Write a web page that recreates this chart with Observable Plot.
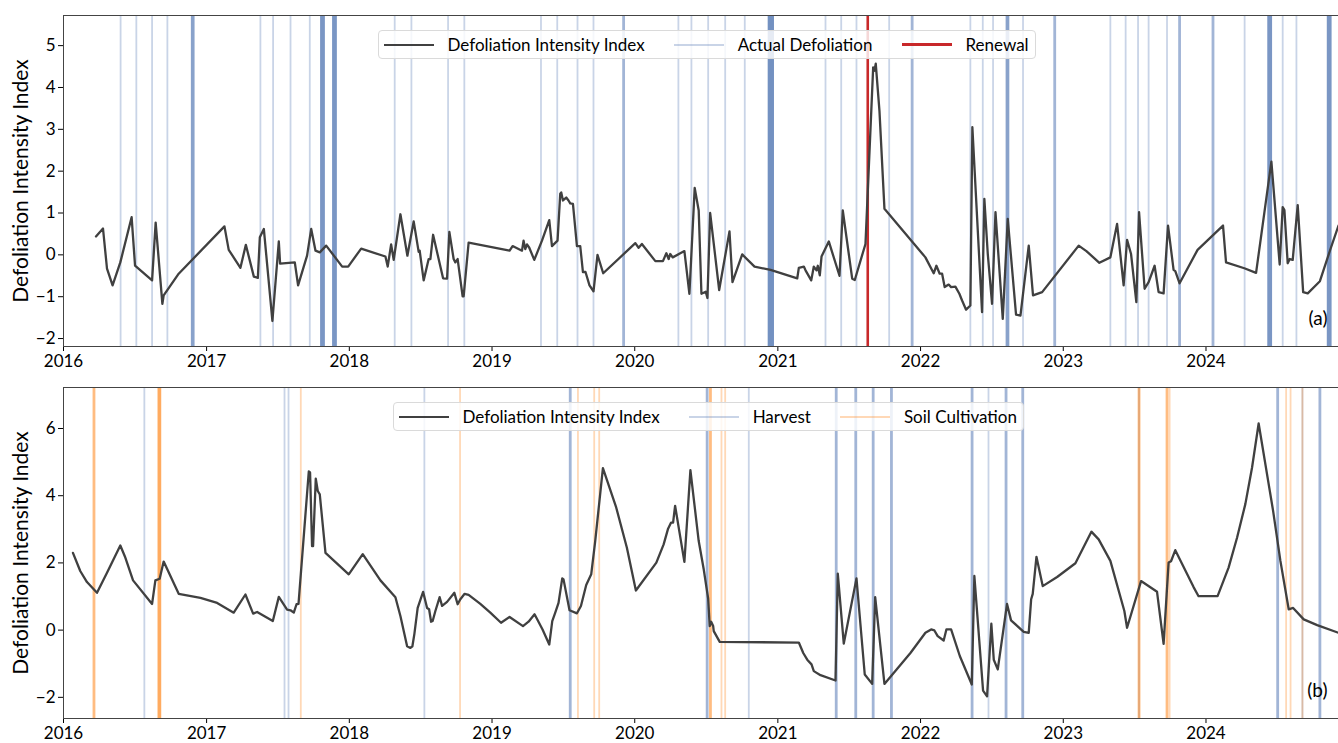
<!DOCTYPE html>
<html><head><meta charset="utf-8">
<script src="https://cdn.jsdelivr.net/npm/d3@7"></script>
<script src="https://cdn.jsdelivr.net/npm/@observablehq/plot@0.6"></script>
<style>
body{margin:0;background:#fff;font-family:Lato,sans-serif;}
#wrap{position:relative;width:1338px;height:743px;overflow:hidden;background:#fff}
.panel{position:relative;width:1338px}
.panel svg{display:block}
.legend{position:absolute;display:flex;align-items:center;background:rgba(255,255,255,0.82);border:1px solid #dadada;border-radius:4px;box-sizing:border-box;height:29px;padding:0 6px 0 5px;font-size:17px;color:#000;white-space:nowrap}
.item{display:flex;align-items:center;margin-right:29.5px}
.item:last-child{margin-right:0}
.sw{width:50px;height:0;margin-right:13.5px}
</style>
</head><body><div id="wrap"></div><script>
// ---------- data (decimal years) ----------
const xDomainYears = [2016.0, 2024.926];
const tickYears = [2016, 2017, 2018, 2019, 2020, 2021, 2022, 2023, 2024];
const topYTicks = [-2, -1, 0, 1, 2, 3, 4, 5];
const bottomYTicks = [-2, 0, 2, 4, 6];
const topYDomain = [-2.19, 5.72];
const bottomYDomain = [-2.63, 7.22];

const topYears = [2016.227,2016.276,2016.304,2016.343,2016.397,2016.476,2016.500,2016.619,2016.644,2016.691,2016.700,2016.805,
2017.125,2017.155,2017.237,2017.275,2017.331,2017.359,2017.373,2017.401,2017.461,2017.506,2017.515,2017.618,2017.641,2017.704,2017.733,2017.763,2017.793,2017.838,2017.950,2017.992,
2018.083,2018.253,2018.269,2018.293,2018.311,2018.358,2018.407,2018.451,2018.486,2018.493,2018.521,2018.556,2018.568,2018.587,2018.657,2018.685,2018.701,2018.731,2018.743,2018.759,2018.794,2018.801,2018.836,
2019.123,2019.144,2019.210,2019.221,2019.233,2019.245,2019.261,2019.296,2019.350,2019.401,2019.420,2019.459,2019.478,2019.485,2019.497,2019.520,2019.536,2019.548,2019.567,2019.595,2019.618,2019.637,2019.655,2019.683,2019.711,2019.739,2019.779,
2020.004,2020.027,2020.050,2020.144,2020.197,2020.221,2020.237,2020.248,2020.265,2020.347,2020.382,2020.419,2020.447,2020.466,2020.496,2020.508,2020.527,2020.590,2020.662,2020.683,2020.751,2020.837,2020.949,
2021.136,2021.147,2021.182,2021.194,2021.234,2021.252,2021.271,2021.280,2021.294,2021.306,2021.357,2021.432,2021.455,2021.521,2021.539,2021.614,2021.668,2021.677,2021.686,2021.712,2021.747,
2022.034,2022.092,2022.111,2022.134,2022.151,2022.169,2022.197,2022.214,2022.244,2022.272,2022.291,2022.319,2022.349,2022.363,2022.431,2022.447,2022.471,2022.501,2022.525,2022.576,2022.611,2022.669,2022.700,2022.758,2022.788,2022.852,
2023.108,2023.162,2023.253,2023.330,2023.377,2023.423,2023.447,2023.475,2023.512,2023.531,2023.570,2023.598,2023.640,2023.668,2023.703,2023.734,2023.773,2023.785,2023.815,2023.941,
2024.119,2024.140,2024.268,2024.350,2024.457,2024.515,2024.536,2024.548,2024.571,2024.585,2024.606,2024.641,2024.679,2024.711,2024.796,2024.870,2024.926];
const topValues = [0.44,0.63,-0.33,-0.73,-0.18,0.90,-0.26,-0.61,0.77,-1.17,-0.97,-0.45,
0.68,0.12,-0.31,0.24,-0.52,-0.55,0.42,0.62,-1.58,0.32,-0.21,-0.18,-0.73,-0.02,0.62,0.10,0.06,0.22,-0.28,-0.28,
0.15,-0.04,-0.28,0.25,-0.12,0.97,-0.02,0.80,0.07,0.10,-0.61,-0.10,-0.10,0.48,-0.56,-0.57,0.55,-0.10,-0.18,-0.10,-0.99,-0.99,0.29,
0.10,0.21,0.10,0.34,0.14,0.25,0.17,-0.12,0.34,0.83,0.21,0.34,1.46,1.49,1.30,1.37,1.30,1.23,1.22,0.21,0.21,-0.41,-0.41,-0.73,-0.87,0.00,-0.44,
0.28,0.17,0.26,-0.15,-0.15,0.04,-0.10,0.02,-0.06,0.09,-0.93,1.60,1.06,-0.93,-0.88,-1.03,1.00,-0.84,0.56,-0.65,0.01,-0.28,-0.36,
-0.56,-0.31,-0.28,-0.37,-0.61,-0.28,-0.37,-0.26,-0.49,-0.04,0.32,-0.50,1.06,-0.57,-0.60,0.26,4.48,4.40,4.57,3.44,1.10,
-0.06,-0.44,-0.26,-0.45,-0.45,-0.77,-0.71,-0.77,-0.76,-0.93,-1.09,-1.31,-1.21,3.05,-1.37,1.34,0.02,-1.17,1.02,-1.53,0.86,-1.43,-1.45,0.22,-0.97,-0.89,
0.22,0.09,-0.19,-0.06,0.74,-0.73,0.36,0.02,-1.13,1.02,-0.81,-0.65,-0.26,-0.89,-0.92,0.70,-0.36,-0.39,-0.68,0.12,
0.70,-0.18,-0.32,-0.43,2.23,-0.23,1.14,1.07,-0.20,-0.10,-0.12,1.19,-0.89,-0.92,-0.63,0.14,0.70];

const bottomYears = [2016.066,2016.117,2016.164,2016.234,2016.304,2016.397,2016.432,2016.486,2016.619,2016.642,2016.672,2016.700,2016.805,2016.957,
2017.074,2017.190,2017.272,2017.326,2017.354,2017.464,2017.506,2017.564,2017.588,2017.611,2017.630,2017.644,2017.716,2017.725,2017.739,2017.746,2017.765,2017.779,2017.793,2017.833,2017.996,
2018.094,2018.218,2018.323,2018.358,2018.405,2018.428,2018.442,2018.456,2018.479,2018.517,2018.545,2018.559,2018.573,2018.584,2018.603,2018.633,2018.650,2018.685,2018.736,2018.759,2018.778,2018.808,2018.836,2018.918,2018.988,
2019.063,2019.123,2019.217,2019.256,2019.298,2019.354,2019.401,2019.422,2019.443,2019.466,2019.492,2019.501,2019.543,2019.595,2019.623,2019.660,2019.695,2019.723,2019.777,2019.870,2019.945,
2020.008,2020.151,2020.202,2020.233,2020.254,2020.268,2020.282,2020.347,2020.389,2020.447,2020.482,2020.513,2020.524,2020.534,2020.548,2020.552,2020.594,
2021.147,2021.178,2021.206,2021.236,2021.252,2021.299,2021.404,2021.420,2021.462,2021.551,2021.609,2021.661,2021.682,2021.747,2021.929,
2022.034,2022.074,2022.097,2022.120,2022.162,2022.181,2022.214,2022.275,2022.359,2022.377,2022.438,2022.466,2022.496,2022.513,2022.541,2022.606,2022.634,2022.723,2022.758,2022.775,2022.786,2022.812,2022.856,2022.957,
2023.085,2023.197,2023.248,2023.330,2023.428,2023.447,2023.545,2023.657,2023.703,2023.738,2023.755,2023.785,2023.913,2023.948,
2024.081,2024.158,2024.217,2024.275,2024.322,2024.368,2024.469,2024.520,2024.578,2024.609,2024.683,2024.777,2024.926];
const bottomValues = [2.30,1.76,1.43,1.11,1.71,2.52,2.16,1.48,0.78,1.48,1.53,2.04,1.08,0.96,
0.81,0.52,1.06,0.49,0.54,0.27,0.99,0.61,0.59,0.52,0.77,0.78,4.72,4.69,2.50,2.50,4.51,4.14,4.04,2.30,1.66,
2.26,1.48,0.98,0.42,-0.48,-0.53,-0.48,-0.11,0.66,1.14,0.66,0.62,0.25,0.27,0.57,0.98,0.72,0.84,1.11,0.77,0.92,1.08,1.05,0.78,0.52,
0.22,0.39,0.12,0.25,0.47,0.02,-0.43,0.27,0.52,0.81,1.54,1.51,0.59,0.50,0.72,1.34,1.66,2.65,4.82,3.65,2.45,
1.18,2.01,2.55,3.02,3.20,3.20,3.70,2.03,4.76,2.65,1.81,0.94,0.12,0.25,0.12,-0.03,-0.35,
-0.37,-0.68,-0.88,-1.02,-1.22,-1.34,-1.50,1.68,-0.40,1.54,-1.32,-1.60,0.98,-1.60,-0.68,
-0.08,0.02,-0.01,-0.18,-0.31,0.02,0.02,-0.77,-1.62,1.61,-1.80,-1.97,0.19,-0.88,-1.17,0.78,0.29,-0.05,-0.08,0.92,1.08,2.18,1.31,1.58,
1.99,2.93,2.70,2.06,0.57,0.07,1.46,1.14,-0.41,2.01,2.05,2.38,1.28,1.01,
1.01,1.86,2.75,3.75,4.84,6.15,3.55,2.06,0.62,0.66,0.32,0.15,-0.08];

// Event dates (decimal years) and number of overlapping events at each
const defolYears = [2016.399,2016.509,2016.619,2016.726,2016.903,2017.377,2017.466,2017.588,2017.723,2017.812,2017.896,
2018.318,2018.435,2018.692,2018.806,2019.343,2019.457,2019.599,2019.711,2019.922,
2020.305,2020.396,2020.513,2020.632,2020.769,2020.951,2021.334,2021.444,2021.551,2021.780,2021.941,
2022.349,2022.436,2022.508,2022.609,2022.718,2022.940,2023.330,2023.437,2023.524,2023.598,2023.727,2023.815,
2024.049,2024.270,2024.445,2024.536,2024.632,2024.861];
const defolCounts = [1,1,1,1,3,1,1,1,1,4,4,
1,1,1,1,1,1,1,1,2,
1,1,1,1,1,5,1,1,1,1,2,
1,1,1,3,1,2,1,1,1,1,1,2,
2,1,4,1,1,4];
const renewalYears = [2021.630];

const harvestYears = [2016.565,2017.546,2017.574,2018.526,2019.548,2020.506,2020.797,2021.409,2021.546,2021.668,2021.796,
2022.361,2022.476,2022.599,2022.716,2023.531,2024.501,2024.674,2024.796];
const harvestCounts = [1,1,1,1,2,2,1,2,2,2,2,2,1,2,2,1,2,1,2];
const soilYears = [2016.213,2016.670,2017.660,2018.776,2019.602,2019.716,2019.751,2020.529,2020.606,2020.632,
2023.531,2023.727,2023.745,2024.560,2024.591,2024.674];
const soilCounts = [2,3,1,1,1,1,1,2,1,1,2,2,1,1,1,1];

const topLegendLabels = ["Defoliation Intensity Index", "Actual Defoliation", "Renewal"];
const bottomLegendLabels = ["Defoliation Intensity Index", "Harvest", "Soil Cultivation"];
const yLabel = "Defoliation Intensity Index";
const panelTags = ["(a)", "(b)"];

// ---------- helpers ----------
const toDate = yd => { const y = Math.floor(yd); const a = Date.UTC(y,0,1), b = Date.UTC(y+1,0,1); return new Date(a + (yd - y) * (b - a)); };
const series = (ys, vs) => ys.map((y, i) => ({date: toDate(y), v: vs[i]}));
const events = (ys, cs) => ys.map((y, i) => ({date: toDate(y), n: cs ? cs[i] : 1}));
const W = n => [0, 1.8, 2.8, 3.7, 4.8, 6.3][n];
const O = n => [0, 0.3, 0.52, 0.66, 0.74, 0.78][n];

const LINE = "#404040", BLUE = "#4c72b0", ORANGE = "#ff7f0e", RED = "#c8282a", SPINE = "#444";
const xDomain = xDomainYears.map(toDate);
const xTicks = tickYears.map(y => toDate(y));

function panel(cfg) {
  const svg = Plot.plot({
    width: 1338, height: cfg.height,
    marginLeft: 63, marginRight: 0, marginTop: 15, marginBottom: cfg.marginBottom,
    style: {fontFamily: "Lato, sans-serif", fontSize: "17px", color: "#000", background: "transparent", overflow: "visible"},
    x: {type: "utc", domain: xDomain, ticks: xTicks, tickFormat: d3.utcFormat("%Y"), tickSize: 5, tickPadding: 3, label: null},
    y: {domain: cfg.yDomain, ticks: cfg.yTicks, tickSize: 5, tickPadding: 3, label: yLabel, labelAnchor: "center", labelArrow: "none", labelOffset: 50},
    marks: [
      ...cfg.ruleMarks,
      Plot.line(cfg.data, {x: "date", y: "v", stroke: LINE, strokeWidth: 2.3, curve: cfg.curve, clip: true}),
      Plot.ruleY([cfg.yDomain[0], cfg.yDomain[1]], {stroke: SPINE, strokeWidth: 1}),
      Plot.ruleX([xDomain[0]], {stroke: SPINE, strokeWidth: 1}),
      Plot.text([cfg.tag], {frameAnchor: "bottom-right", dx: -11, dy: -28, fontSize: 19, textAnchor: "end", lineAnchor: "middle"})
    ]
  });
  const lab = svg.querySelector('g[aria-label="y-axis label"]');
  if (lab) lab.setAttribute("font-size", "21px");
  const div = document.createElement("div");
  div.className = "panel";
  div.appendChild(svg);
  const lg = document.createElement("div");
  lg.className = "legend";
  lg.style.left = cfg.legendLeft + "px";
  lg.style.top = "30px";
  cfg.legend.forEach(it => {
    const item = document.createElement("div"); item.className = "item";
    const sw = document.createElement("div"); sw.className = "sw";
    sw.style.borderTop = `${it.w}px solid ${it.c}`; sw.style.opacity = it.o;
    const tx = document.createElement("span"); tx.textContent = it.label;
    item.appendChild(sw); item.appendChild(tx); lg.appendChild(item);
  });
  div.appendChild(lg);
  return div;
}

const wrap = document.getElementById("wrap");
wrap.appendChild(panel({
  height: 372, marginBottom: 26, yDomain: topYDomain, yTicks: topYTicks, curve: "linear",
  data: series(topYears, topValues), tag: panelTags[0], legendLeft: 378,
  ruleMarks: [
    Plot.ruleX(events(defolYears, defolCounts), {x: "date", stroke: BLUE, strokeOpacity: d => O(d.n), strokeWidth: d => W(d.n)}),
    Plot.ruleX(events(renewalYears), {x: "date", stroke: RED, strokeWidth: 2.6})
  ],
  legend: [
    {label: topLegendLabels[0], c: LINE, o: 1, w: 2.5},
    {label: topLegendLabels[1], c: BLUE, o: 0.3, w: 2.5},
    {label: topLegendLabels[2], c: RED, o: 1, w: 3}
  ]
}));
wrap.appendChild(panel({
  height: 371, marginBottom: 25, yDomain: bottomYDomain, yTicks: bottomYTicks, curve: "linear",
  data: series(bottomYears, bottomValues), tag: panelTags[1], legendLeft: 393,
  ruleMarks: [
    Plot.ruleX(events(harvestYears, harvestCounts), {x: "date", stroke: BLUE, strokeOpacity: d => O(d.n), strokeWidth: d => W(d.n)}),
    Plot.ruleX(events(soilYears, soilCounts), {x: "date", stroke: ORANGE, strokeOpacity: d => O(d.n), strokeWidth: d => W(d.n)})
  ],
  legend: [
    {label: bottomLegendLabels[0], c: LINE, o: 1, w: 2.5},
    {label: bottomLegendLabels[1], c: BLUE, o: 0.3, w: 2.5},
    {label: bottomLegendLabels[2], c: ORANGE, o: 0.3, w: 2.5}
  ]
}));
</script></body></html>
